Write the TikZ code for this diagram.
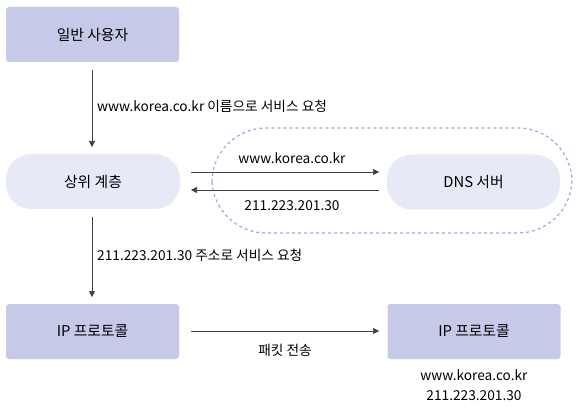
\documentclass[tikz,border=0pt]{standalone}
\usepackage{fontspec}
\setmainfont{Noto Sans CJK KR}
\usetikzlibrary{arrows.meta}
\definecolor{boxfill}{HTML}{C6C9E8}
\definecolor{pillfill}{HTML}{E8E9F6}
\definecolor{dashcol}{HTML}{A3A6E0}
\tikzset{
  sqbox/.style={fill=boxfill, rounded corners=3pt, minimum width=173pt, minimum height=55pt, inner sep=0pt, font=\fontsize{14.8}{17}\selectfont},
  pill/.style={fill=pillfill, rounded corners=25pt, minimum width=174pt, minimum height=55pt, inner sep=0pt, font=\fontsize{14.8}{17}\selectfont},
  lbl/.style={font=\fontsize{13.7}{17}\selectfont, inner sep=0pt},
  conn/.style={draw=black!75, line width=0.6pt, -{Triangle[length=6pt,width=6pt]}},
}
\begin{document}
\begin{tikzpicture}[x=1pt,y=-1pt]
\useasboundingbox (0,0) rectangle (581,414);
% dashed envelope
\draw[dashcol, line width=1.2pt, dash pattern=on 3pt off 3pt, rounded corners=54pt] (212,128) rectangle (572,233);
% nodes
\node[sqbox] (user) at (92.5,34.5) {일반 사용자};
\node[pill] (upper) at (93,181.5) {상위 계층};
\node[pill, minimum width=173pt] (dns) at (473.5,182) {DNS 서버};
\node[sqbox] (ipl) at (92.5,331.5) {IP 프로토콜};
\node[sqbox] (ipr) at (474,331.5) {IP 프로토콜};
% coordinates for connectors
\coordinate (a1s) at (92,70);
\coordinate (a1e) at (92,147);
\coordinate (a2s) at (92,217);
\coordinate (a2e) at (92,297);
\coordinate (q1) at (191,172);
\coordinate (q2) at (379,172);
\coordinate (r1) at (379,190);
\coordinate (r2) at (191,190);
\coordinate (p1) at (191,331);
\coordinate (p2) at (379,331);
\draw[conn] (a1s) -- (a1e);
\draw[conn] (a2s) -- (a2e);
\draw[conn] (q1) -- (q2);
\draw[conn] (r1) -- (r2);
\draw[conn] (p1) -- (p2);
% labels
\node[lbl, anchor=west] (l1) at (97,106) {www.korea.co.kr 이름으로 서비스 요청};
\node[lbl, anchor=west] (l2) at (97,255) {211.223.201.30 주소로 서비스 요청};
\node[lbl] (l3) at (292,158) {www.korea.co.kr};
\node[lbl] (l4) at (292,206) {211.223.201.30};
\node[lbl] (l5) at (285,350) {패킷 전송};
\node[lbl] (l6) at (474,375) {www.korea.co.kr};
\node[lbl] (l7) at (474,396) {211.223.201.30};
\end{tikzpicture}
\end{document}
